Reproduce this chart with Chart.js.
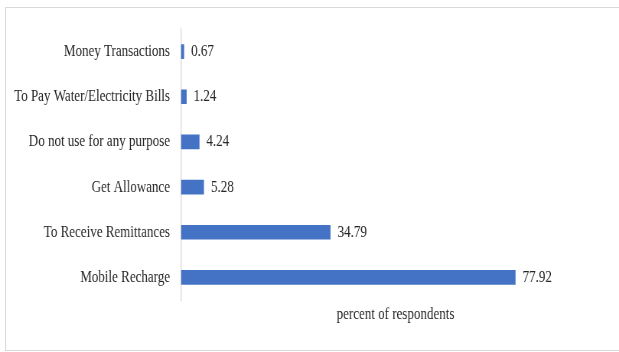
<!DOCTYPE html>
<html>
<head>
<meta charset="utf-8">
<title>Mobile money usage</title>
<script src="https://cdn.jsdelivr.net/npm/chart.js@4.4.0/dist/chart.umd.min.js"></script>
<style>
  html, body { margin: 0; padding: 0; background: #fff; overflow: hidden; }
  #frame {
    position: absolute; left: 5px; top: 7px;
    width: 700px; height: 342px;
    border: 1px solid #d9d9d9; border-right: none;
  }
  /* narrow serif look: draw wide, squeeze horizontally */
  #wrap {
    position: absolute; left: 0; top: 0;
    width: 809px; height: 352px;
    transform: scaleX(0.76514); transform-origin: 0 0;
  }
</style>
</head>
<body>
<div id="frame"></div>
<div id="wrap"><canvas id="usageChart"></canvas></div>
<script>
// purposes, listed top to bottom
const categories = [
  'Money Transactions',
  'To Pay Water/Electricity Bills',
  'Do not use for any purpose',
  'Get Allowance',
  'To Receive Remittances',
  'Mobile Recharge'
];
const percents = [0.67, 1.24, 4.24, 5.28, 34.79, 77.92];
const axisTitle = 'percent of respondents';

const serif = '"Liberation Serif", "Times New Roman", serif';
const textColor = '#262626';

// value printed just past the end of each bar
const valueLabels = {
  id: 'valueLabels',
  afterDatasetsDraw(chart) {
    const ctx = chart.ctx;
    const meta = chart.getDatasetMeta(0);
    ctx.save();
    ctx.font = '17px ' + serif;
    ctx.fillStyle = textColor;
    ctx.textAlign = 'left';
    ctx.textBaseline = 'middle';
    meta.data.forEach((bar, i) => {
      ctx.fillText(percents[i].toFixed(2), bar.x + 9.5, bar.y);
    });
    ctx.restore();
  }
};

document.addEventListener("DOMContentLoaded", function () {
  const ctx = document.getElementById("usageChart").getContext("2d");
  new Chart(ctx, {
    type: 'bar',
    data: {
      labels: categories,
      datasets: [{
        data: percents,
        backgroundColor: '#4472c4',
        borderWidth: 0,
        barThickness: 14
      }]
    },
    plugins: [valueLabels],
    options: {
      indexAxis: 'y',
      responsive: true,
      maintainAspectRatio: false,
      animation: false,
      layout: { padding: { top: 29, right: 11.8, bottom: 20, left: 0 } },
      plugins: {
        legend: { display: false },
        tooltip: { enabled: false }
      },
      scales: {
        x: {
          min: 0,
          max: 100,
          ticks: { display: false },
          grid: { display: false, drawTicks: false },
          border: { display: false },
          title: {
            display: true,
            text: axisTitle,
            color: textColor,
            font: { family: serif, size: 17 },
            padding: { top: 4.8, bottom: 6.8 }
          }
        },
        y: {
          afterFit: function (scale) { scale.width = 236.6; },
          ticks: {
            color: textColor,
            font: { family: serif, size: 17 },
            padding: 14.4
          },
          grid: { display: false, drawTicks: false },
          border: { display: true, color: '#d9d9d9', width: 1.31 }
        }
      }
    }
  });
});
</script>
</body>
</html>
